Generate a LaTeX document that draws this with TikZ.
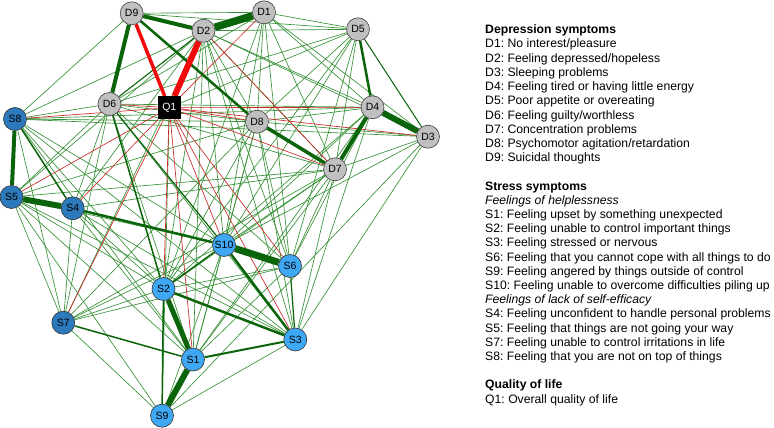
\documentclass[tikz,border=0pt]{standalone}
\usepackage{fontspec}
\setmainfont{Liberation Sans}
\frenchspacing
\pgfdeclarelayer{back}
\pgfdeclarelayer{edges}
\pgfsetlayers{back,edges,main}
\begin{document}
\begin{tikzpicture}[x=1pt,y=-1pt,
  gthin/.style={draw=gL,line width=0.65pt},
  rthin/.style={draw=rL,line width=0.65pt},
  gw/.style={draw=gD,line width=#1},
  rw/.style={draw=rD,line width=#1},
  dnode/.style={circle,draw=black!75,fill=nGrey,line width=0.6pt,minimum size=23pt,inner sep=0pt,font=\fontsize{10.5}{12}\selectfont},
  sdark/.style={dnode,fill=nDark,draw=black!80},
  slight/.style={dnode,fill=nLight,draw=black!80},
  qnode/.style={rectangle,fill=black,text=white,minimum size=23pt,inner sep=0pt,font=\fontsize{10.5}{12}\selectfont},
  legend/.style={anchor=base west,inner sep=0pt,font=\fontsize{12.2}{14}\selectfont}
]
\definecolor{gL}{RGB}{55,145,55}
\definecolor{gD}{RGB}{10,100,10}
\definecolor{rL}{RGB}{205,40,40}
\definecolor{rD}{RGB}{240,10,10}
\definecolor{nGrey}{RGB}{192,192,192}
\definecolor{nDark}{RGB}{44,122,188}
\definecolor{nLight}{RGB}{62,168,245}
\useasboundingbox (0,0) rectangle (774,428);
\begin{pgfonlayer}{back}
\fill[white] (0,0) rectangle (774,428);
\end{pgfonlayer}

% nodes
\node[dnode] (D9) at (131.7,13.3) {D9};
\node[dnode] (D1) at (264,12.3) {D1};
\node[dnode] (D2) at (203.5,30.7) {D2};
\node[dnode] (D5) at (358,29.3) {D5};
\node[dnode] (D6) at (109.5,104) {D6};
\node[qnode] (Q1) at (169.3,107.7) {Q1};
\node[dnode] (D4) at (372.5,107.3) {D4};
\node[dnode] (D8) at (257,121.7) {D8};
\node[dnode] (D3) at (428,136.7) {D3};
\node[dnode] (D7) at (335,169.3) {D7};
\node[sdark] (S8) at (15,119) {S8};
\node[sdark] (S5) at (11.5,197) {S5};
\node[sdark] (S4) at (72.7,208.3) {S4};
\node[slight] (S10) at (224,245) {S10};
\node[slight] (S6) at (290,266) {S6};
\node[slight] (S2) at (163.5,289) {S2};
\node[sdark] (S7) at (63.3,322.7) {S7};
\node[slight] (S3) at (295.3,339.5) {S3};
\node[slight] (S1) at (193,359.5) {S1};
\node[slight] (S9) at (162,415.7) {S9};

\begin{pgfonlayer}{edges}
% thin green edges
\foreach \a/\b in {D2/D5,D2/D4,D2/D3,D2/D7,D2/D8,D2/S8,D2/S5,D2/S4,D2/S2,D2/S10,D2/S6,D2/S3,D2/S1,D2/S7,
  D1/D5,D1/D4,D1/D8,D1/D7,D1/D6,D1/S10,D1/S2,D1/S6,D1/D3,D9/D1,D9/S8,D9/D5,
  D5/D8,D5/D7,D5/D6,D5/S10,D5/S2,D5/S6,
  D4/D8,D4/D6,D4/S8,D4/S10,D4/S2,D4/S6,D4/S3,D4/S1,
  D3/D8,D3/S8,D3/D7,D3/S3,D3/S10,D3/S9,
  D7/D6,D7/S10,D7/S6,D7/S3,D7/S2,D7/S1,D7/S4,D7/S5,D7/S7,
  D8/D6,D8/S8,D8/S10,D8/S6,D8/S3,D8/S2,D8/S1,D8/S5,D8/S7,
  D6/S8,D6/S5,D6/S4,D6/S7,D6/S1,D6/S3,D6/S6,
  S8/S7,S8/S2,S8/S10,S8/S1,S8/S3,
  S5/S7,S5/S2,S5/S1,S5/S10,S5/S9,S5/S3,
  S4/S7,S4/S2,S4/S1,S4/S3,
  S7/S2,S7/S10,S7/S9,S7/S6,
  S10/S1,S10/S9,S2/S6,S6/S1,S3/S9,Q1/D5,Q1/S9}
  \draw[gthin] (\a) -- (\b);
% thin red edges
\foreach \a/\b in {Q1/D1,Q1/D4,Q1/D3,Q1/D8,Q1/D7,Q1/S8,Q1/S5,Q1/S7,Q1/S4,Q1/S2,Q1/S10,Q1/S6,Q1/S3,Q1/S1,Q1/D6,D2/D7}
  \draw[rthin] (\a) -- (\b);

% heavier edges
\draw[gw=1.1pt] (D6) -- (D2);
\draw[gw=1pt] (D5) -- (D3);
\draw[gw=1.2pt] (D6) -- (S10);
\draw[gw=1.5pt] (D6) -- (S2);
\draw[gw=2.5pt] (D9) -- (D8);
\draw[gw=2.5pt] (D5) -- (D4);
\draw[gw=6pt] (D4) -- (D3);
\draw[gw=4pt] (D4) -- (D7);
\draw[gw=3.5pt] (D8) -- (D7);
\draw[gw=4pt] (D9) -- (D6);
\draw[gw=4pt] (D9) -- (D2);
\draw[gw=7.5pt] (D2) -- (D1);
\draw[gw=4pt] (S8) -- (S5);
\draw[gw=6pt] (S5) -- (S4);
\draw[gw=1.5pt] (S8) -- (S4);
\draw[gw=2.5pt] (S4) -- (S10);
\draw[gw=7pt] (S10) -- (S6);
\draw[gw=2.5pt] (S10) -- (S3);
\draw[gw=5pt] (S2) -- (S1);
\draw[gw=6pt] (S1) -- (S9);
\draw[gw=1.5pt] (S2) -- (S9);
\draw[gw=2.5pt] (S2) -- (S3);
\draw[gw=2pt] (S1) -- (S3);
\draw[gw=1.5pt] (S7) -- (S1);
\draw[gw=1.5pt] (S2) -- (S10);
\draw[gw=1.2pt] (S6) -- (S3);
\draw[rw=3.5pt] (Q1) -- (D9);
\draw[rw=6pt] (Q1) -- (D2);
\end{pgfonlayer}

% legend
\node[legend] (L0) at (485,33.8) {\bfseries Depression symptoms};
\node[legend] (L1) at (485,48.0) {D1: No interest/pleasure};
\node[legend] (L2) at (485,62.2) {D2: Feeling depressed/hopeless};
\node[legend] (L3) at (485,76.4) {D3: Sleeping problems};
\node[legend] (L4) at (485,90.6) {D4: Feeling tired or having little energy};
\node[legend] (L5) at (485,104.8) {D5: Poor appetite or overeating};
\node[legend] (L6) at (485,119.0) {D6: Feeling guilty/worthless};
\node[legend] (L7) at (485,133.2) {D7: Concentration problems};
\node[legend] (L8) at (485,147.4) {D8: Psychomotor agitation/retardation};
\node[legend] (L9) at (485,161.6) {D9: Suicidal thoughts};
\node[legend] (L11) at (485,190.0) {\bfseries Stress symptoms};
\node[legend] (L12) at (485,204.2) {\itshape Feelings of helplessness};
\node[legend] (L13) at (485,218.4) {S1: Feeling upset by something unexpected};
\node[legend] (L14) at (485,232.6) {S2: Feeling unable to control important things};
\node[legend] (L15) at (485,246.8) {S3: Feeling stressed or nervous};
\node[legend] (L16) at (485,261.0) {S6: Feeling that you cannot cope with all things to do};
\node[legend] (L17) at (485,275.2) {S9: Feeling angered by things outside of control};
\node[legend] (L18) at (485,289.4) {S10: Feeling unable to overcome difficulties piling up};
\node[legend] (L19) at (485,303.6) {\itshape Feelings of lack of self-efficacy};
\node[legend] (L20) at (485,317.8) {S4: Feeling unconfident to handle personal problems};
\node[legend] (L21) at (485,332.0) {S5: Feeling that things are not going your way};
\node[legend] (L22) at (485,346.2) {S7: Feeling unable to control irritations in life};
\node[legend] (L23) at (485,360.4) {S8: Feeling that you are not on top of things};
\node[legend] (L25) at (485,388.8) {\bfseries Quality of life};
\node[legend] (L26) at (485,403.0) {Q1: Overall quality of life};
\end{tikzpicture}
\end{document}
